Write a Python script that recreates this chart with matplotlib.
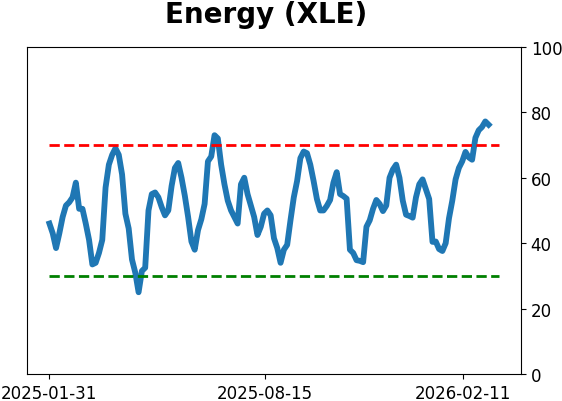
import matplotlib
matplotlib.use("Agg")
import matplotlib.pyplot as plt
import pandas as pd

# values, one every 3 days starting 2025-01-31
values = [46, 43, 38.5, 43, 48, 51.5, 52.5, 54, 58.5, 50.5,
          50.5, 46, 41, 33.5, 34, 37, 41, 57, 64, 67,
          69, 67, 61, 49, 44.5, 35, 31, 25, 31.5, 32.5,
          50, 55, 55.5, 54, 51, 48.5, 50, 57.5, 63, 64.5,
          60, 54.5, 48, 40.5, 38, 44, 47.3, 52, 65, 66.5,
          73, 72, 64, 58, 53, 50, 48, 46, 58, 60,
          55, 51.5, 48, 42.5, 45, 49, 50, 48.5, 41.5, 38.5,
          34, 38, 39.5, 47, 54, 59, 66, 68, 67.5, 64,
          59, 53.5, 50, 50, 51.4, 53.2, 58.5, 61.7, 55, 54.4,
          53.6, 38, 37, 34.8, 34.6, 34.2, 45, 47, 50.5, 53.2,
          52, 49.8, 51.5, 60, 62.5, 64, 60, 53, 48.7, 48.3,
          47.8, 54, 58, 59.5, 56.5, 53.5, 40.4, 40.5, 38.2, 37.6,
          40, 47.6, 53, 59.5, 63, 65, 67.9, 66.2, 65.5, 72.2,
          74.5, 75.5, 77.2, 76.2]
dates = pd.date_range("2025-01-31", periods=len(values), freq="3D")

upper = 70
lower = 30
band_start = pd.Timestamp("2025-01-31")
band_end = pd.Timestamp("2026-03-15")
tick_dates = ["2025-01-31", "2025-08-15", "2026-02-11"]

fig = plt.figure(figsize=(5.62, 4.02), dpi=100)
ax = fig.add_axes([0.048, 0.067, 0.879, 0.814])

ax.plot(dates, values, color="#1f77b4", lw=4.2)
ax.plot([band_start, band_end], [upper, upper], color="red", ls="--", lw=2)
ax.plot([band_start, band_end], [lower, lower], color="green", ls="--", lw=2)

ax.set_ylim(0, 100)
ax.yaxis.tick_right()
ax.set_yticks([0, 20, 40, 60, 80, 100])
ax.set_xticks(pd.to_datetime(tick_dates))
ax.set_xticklabels(tick_dates)
ax.tick_params(labelsize=12)
ax.set_title("Energy (XLE)", fontsize=20, fontweight="bold", pad=18, x=0.484)

fig.savefig("out.png", dpi=100)
